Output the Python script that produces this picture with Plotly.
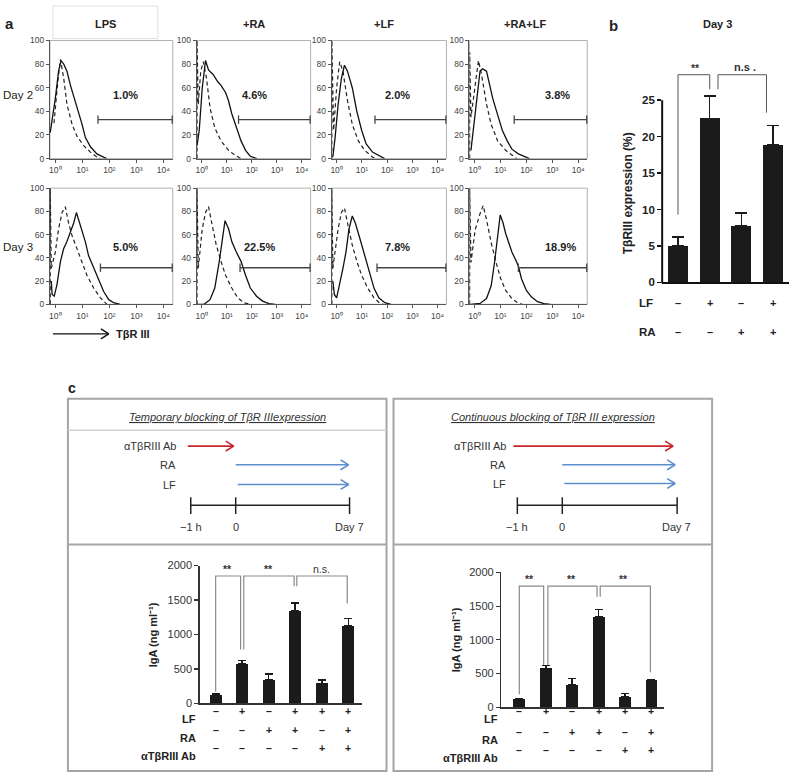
import plotly.graph_objects as go

W, H = 789, 778
FONT = "Liberation Sans, Arial, sans-serif"

# ---------------- Panel a data (log10 fluorescence, % of max) ----------------
conditions = ["LPS", "+RA", "+LF", "+RA+LF"]
days = ["Day 2", "Day 3"]
pct_day2 = ["1.0%", "4.6%", "2.0%", "3.8%"]
pct_day3 = ["5.0%", "22.5%", "7.8%", "18.9%"]
gate_start_day2 = [1.58, 1.47, 1.52, 1.53]
gate_start_day3 = [1.67, 1.53, 1.60, 1.69]
gate_end = 4.33
gate_level_day2 = 33
gate_level_day3 = 31.5

d2_lps_x = [-0.19, -0.09, 0.0, 0.12, 0.21, 0.31, 0.43, 0.56, 0.74, 0.86, 0.99, 1.11, 1.30, 1.54, 1.79, 1.9]
d2_lps_y = [22, 37, 51, 74, 83, 80, 74, 62, 49, 40, 29, 18, 10, 4, 1, 0]
d2_lps_c_x = [-0.05, 0.0, 0.09, 0.19, 0.31, 0.43, 0.62, 0.8, 1.05, 1.3, 1.54, 1.67]
d2_lps_c_y = [30, 43, 65, 84, 68, 46, 29, 19, 11, 5.5, 1.4, 0]

d2_ra_x = [-0.19, -0.1, 0.02, 0.15, 0.27, 0.46, 0.64, 0.77, 0.95, 1.07, 1.2, 1.38, 1.57, 1.75, 1.94, 2.2]
d2_ra_y = [11, 24, 60, 83, 75, 71, 65, 62, 56, 49, 38, 26, 15, 7, 2, 0]
d2_ra_c_x = [-0.19, -0.19, -0.14, -0.04, 0.06, 0.19, 0.33, 0.52, 0.77, 1.07, 1.32, 1.57]
d2_ra_c_y = [0, 100, 46, 74, 82, 68, 43, 26, 15, 7, 3, 0]

d2_lf_x = [-0.15, -0.06, 0.06, 0.19, 0.31, 0.43, 0.62, 0.8, 0.99, 1.17, 1.42, 1.67, 1.9]
d2_lf_y = [1.4, 18, 46, 68, 79, 74, 60, 40, 24, 12.5, 5.5, 2.8, 0]
d2_lf_c_x = [-0.19, -0.19, -0.12, 0.0, 0.12, 0.25, 0.43, 0.62, 0.86, 1.11, 1.42, 1.55]
d2_lf_c_y = [0, 100, 24, 60, 82, 74, 49, 29, 15, 7, 1.4, 0]

d2_ralf_x = [-0.14, -0.04, 0.09, 0.21, 0.31, 0.46, 0.58, 0.7, 0.89, 1.07, 1.26, 1.44, 1.69, 1.94, 2.12]
d2_ralf_y = [7, 24, 51, 74, 76, 74, 62, 51, 37, 24, 15, 8, 4, 1.4, 0]
d2_ralf_c_x = [-0.19, -0.19, -0.14, 0.02, 0.15, 0.27, 0.46, 0.64, 0.89, 1.2, 1.44, 1.63]
d2_ralf_c_y = [0, 90, 35, 60, 83, 71, 46, 29, 15, 7, 3, 0]

d3_lps_x = [-0.15, -0.12, -0.04, 0.06, 0.19, 0.31, 0.43, 0.56, 0.68, 0.78, 0.86, 0.99, 1.11, 1.23, 1.42, 1.6, 1.79, 1.98, 2.16, 2.4]
d3_lps_y = [20, 8.5, 7, 17, 37, 48, 54, 62, 70, 79, 73, 65, 54, 42, 31, 22, 11, 4, 1.4, 0]
d3_lps_c_x = [-0.19, -0.19, -0.15, 0.0, 0.12, 0.25, 0.37, 0.49, 0.62, 0.8, 0.99, 1.17, 1.42, 1.67, 1.91]
d3_lps_c_y = [0, 100, 31, 45, 65, 79, 84, 70, 59, 48, 37, 25, 14, 5.6, 0]

d3_ra_x = [-0.19, 0.09, 0.33, 0.52, 0.7, 0.83, 0.93, 1.07, 1.2, 1.38, 1.57, 1.75, 1.94, 2.19, 2.43, 2.68, 2.93]
d3_ra_y = [0, 0, 4, 14, 37, 56, 72, 65, 54, 45, 37, 25, 14, 7, 2.8, 0.6, 0]
d3_ra_c_x = [-0.19, -0.19, -0.14, 0.02, 0.15, 0.27, 0.4, 0.58, 0.77, 0.95, 1.2, 1.44, 1.69, 1.94]
d3_ra_c_y = [0, 100, 31, 65, 79, 84, 70, 51, 37, 25, 14, 5.6, 1.4, 0]

d3_lf_x = [-0.15, -0.09, 0.0, 0.12, 0.25, 0.37, 0.49, 0.62, 0.74, 0.93, 1.11, 1.3, 1.48, 1.67, 1.91, 2.15]
d3_lf_y = [20, 8.5, 5.6, 17, 31, 45, 65, 76, 70, 56, 42, 28, 14, 5.6, 1.4, 0]
d3_lf_c_x = [-0.19, -0.19, -0.15, 0.06, 0.19, 0.31, 0.43, 0.62, 0.8, 0.99, 1.23, 1.48, 1.73, 1.85]
d3_lf_c_y = [0, 100, 31, 65, 79, 83, 70, 51, 37, 25, 14, 5.6, 0.6, 0]

d3_ralf_x = [-0.15, 0.21, 0.46, 0.64, 0.77, 0.89, 0.99, 1.1, 1.2, 1.32, 1.44, 1.57, 1.69, 1.81, 2.0, 2.19, 2.43, 2.68, 2.93]
d3_ralf_y = [0, 0.8, 5, 16, 36, 59, 77, 70, 61, 53, 45, 39, 33, 22, 12, 6.5, 2.3, 0.6, 0]
d3_ralf_c_x = [-0.19, -0.19, -0.14, 0.02, 0.21, 0.33, 0.46, 0.64, 0.83, 1.01, 1.2, 1.44, 1.69, 1.85]
d3_ralf_c_y = [0, 100, 36, 64, 78, 85, 73, 53, 36, 22, 12, 5, 0.8, 0]

hist_ticks = [1, 10, 100, 1000, 10000]
hist_ticktext = ["10⁰", "10¹", "10²", "10³", "10⁴"]

# ---------------- Panel b data ----------------
b_lf = ["–", "+", "–", "+"]
b_ra = ["–", "–", "+", "+"]
b_vals = [5.0, 22.5, 7.8, 18.9]
b_err = [1.2, 3.1, 1.7, 2.6]
b_br1_x = [0, 0, 1, 1]
b_br1_y = [9.3, 28.5, 28.5, 26.5]
b_br2_x = [1.26, 1.26, 2.79, 2.79]
b_br2_y = [26.5, 28.5, 28.5, 23.3]

# ---------------- Panel c data ----------------
c_lf = ["–", "+", "–", "+", "+", "+"]
c_ra = ["–", "–", "+", "+", "–", "+"]
c_ab = ["–", "–", "–", "–", "+", "+"]
c_temp_vals = [125, 570, 340, 1345, 290, 1125]
c_temp_err = [10, 55, 85, 115, 50, 110]
c_cont_vals = [122, 578, 336, 1338, 160, 398]
c_cont_err = [8, 42, 88, 115, 45, 15]
c_temp_brackets = [([0, 0, 0.94, 0.94], [170, 1848, 1848, 780]),
                   ([1.06, 1.06, 2.96, 2.96], [780, 1848, 1848, 1700]),
                   ([3.06, 3.06, 4.96, 4.96], [1700, 1848, 1848, 1450])]
c_temp_sig = [(0.45, "**"), (2.0, "**"), (4.0, "n.s.")]
c_cont_brackets = [([0, 0, 0.92, 0.92], [195, 1796, 1796, 628]),
                   ([1.08, 1.08, 2.94, 2.94], [628, 1796, 1796, 1640]),
                   ([3.06, 3.06, 4.96, 4.96], [1640, 1796, 1796, 521])]
c_cont_sig = [(0.4, "**"), (1.97, "**"), (3.94, "**")]


def px(x):
    return x / W


def py(y):
    return 1 - y / H


fig = go.Figure()
layout = {}
shapes = []
annotations = []
axis_count = [0]


def add_axes(x0, x1, ytop, ybot, xa, ya):
    axis_count[0] += 1
    n = axis_count[0]
    s = "" if n == 1 else str(n)
    layout["xaxis" + s] = dict(domain=[px(x0), px(x1)], anchor="y" + s, **xa)
    layout["yaxis" + s] = dict(domain=[py(ybot), py(ytop)], anchor="x" + s, **ya)
    return "x" + s, "y" + s


def line(x0, y0, x1, y1, color="#000", w=1.5, dash=None):
    ln = dict(color=color, width=w)
    if dash:
        ln["dash"] = dash
    shapes.append(dict(type="line", xref="paper", yref="paper", x0=px(x0), y0=py(y0),
                       x1=px(x1), y1=py(y1), line=ln, layer="above"))


def rect(x0, y0, x1, y1, color, w, layer="below"):
    shapes.append(dict(type="rect", xref="paper", yref="paper", x0=px(x0), y0=py(y0),
                       x1=px(x1), y1=py(y1), line=dict(color=color, width=w), layer=layer))


def arrow(x0, x1, y, color, w=1.6):
    line(x0, y, x1, y, color, w)
    line(x1 - 8, y - 5, x1, y, color, w)
    line(x1 - 8, y + 5, x1, y, color, w)


def text(x, y, t, size=10, bold=False, color="#222", xanchor="center", italic=False, angle=0, yanchor="middle"):
    annotations.append(dict(xref="paper", yref="paper", x=px(x), y=py(y), text=t, showarrow=False,
                            xanchor=xanchor, yanchor=yanchor, textangle=angle,
                            font=dict(family=FONT, size=size, color=color,
                                      weight="bold" if bold else "normal",
                                      style="italic" if italic else "normal")))


# ---------------- Panel a ----------------
cols = [(49, 172), (196, 310), (331, 446), (469, 587)]
rows = [(35, 155), (185, 303)]
hist_data = [
    [(d2_lps_x, d2_lps_y, d2_lps_c_x, d2_lps_c_y), (d2_ra_x, d2_ra_y, d2_ra_c_x, d2_ra_c_y),
     (d2_lf_x, d2_lf_y, d2_lf_c_x, d2_lf_c_y), (d2_ralf_x, d2_ralf_y, d2_ralf_c_x, d2_ralf_c_y)],
    [(d3_lps_x, d3_lps_y, d3_lps_c_x, d3_lps_c_y), (d3_ra_x, d3_ra_y, d3_ra_c_x, d3_ra_c_y),
     (d3_lf_x, d3_lf_y, d3_lf_c_x, d3_lf_c_y), (d3_ralf_x, d3_ralf_y, d3_ralf_c_x, d3_ralf_c_y)],
]
pct_labels = [pct_day2, pct_day3]
gate_starts = [gate_start_day2, gate_start_day3]
gate_levels = [gate_level_day2, gate_level_day3]
pct_pos = [[(2.6, 54), (2.1, 54), (2.4, 54), (3.2, 54)],
           [(2.6, 49), (2.3, 49), (2.4, 49), (3.3, 49)]]

for r, (yt, yb) in enumerate(rows):
    for c, (x0, x1) in enumerate(cols):
        xa = dict(type="log", range=[-0.2, 4.35], tickvals=hist_ticks, ticktext=hist_ticktext,
                  showline=True, linecolor="#555", linewidth=1, ticks="outside", ticklen=3,
                  tickcolor="#555", tickfont=dict(family=FONT, size=8.5, color="#444"),
                  showgrid=False, zeroline=False)
        ya = dict(range=[0, 100], tickvals=[0, 20, 40, 60, 80, 100], showline=True, linecolor="#555",
                  linewidth=1, ticks="outside", ticklen=3, tickcolor="#555",
                  tickfont=dict(family=FONT, size=8.5, color="#444"), showgrid=False, zeroline=False)
        xr, yr = add_axes(x0, x1, yt, yb, xa, ya)
        rect(x0, yt, x1, yb, "#b0b0b0", 1)
        sx, sy, cx, cy = hist_data[r][c]
        fig.add_trace(go.Scatter(x=[10 ** v for v in cx], y=cy, mode="lines", xaxis=xr, yaxis=yr,
                                 line=dict(color="#222", width=1.2, dash="4px,3px"), showlegend=False))
        fig.add_trace(go.Scatter(x=[10 ** v for v in sx], y=sy, mode="lines", xaxis=xr, yaxis=yr,
                                 line=dict(color="#111", width=1.3), showlegend=False))
        g0 = gate_starts[r][c]
        gl = gate_levels[r]
        fig.add_trace(go.Scatter(x=[10 ** g0, 10 ** gate_end], y=[gl, gl], mode="lines+markers",
                                 xaxis=xr, yaxis=yr, line=dict(color="#444", width=1.3),
                                 marker=dict(symbol="line-ns-open", size=6, line=dict(color="#444", width=1.3)),
                                 showlegend=False, cliponaxis=False))
        lx, ly = pct_pos[r][c]
        annotations.append(dict(xref=xr, yref=yr, x=lx, y=ly, text=pct_labels[r][c], showarrow=False,
                                font=dict(family=FONT, size=11, color="#222", weight="bold")))

rect(52, 0, 157, 33, "#e0e0e0", 1)
title_x = [105, 253, 383, 525]
for t, xx in zip(conditions, title_x):
    text(xx, 18, t, size=11, bold=True)
text(0, 90, days[0], size=11.5, xanchor="left")
text(0, 245, days[1], size=11.5, xanchor="left")
text(2, 18, "a", size=15, bold=True, xanchor="left")
arrow(52, 108, 333, "#111", 1.4)
text(113, 333, "TβR III", size=11, bold=True, xanchor="left")

# ---------------- Panel b ----------------
b_top_val = (280.7 - 55) / 7.4
xb, yb_ = add_axes(662, 789, 55, 280.7,
                   dict(range=[-0.5, 3.5], showline=True, linecolor="#111", linewidth=2, ticks="",
                        showticklabels=False, showgrid=False, zeroline=False),
                   dict(range=[0, b_top_val], tickvals=[0, 5, 10, 15, 20, 25], showline=False, ticks="outside",
                        ticklen=4, tickwidth=1.5, tickcolor="#111",
                        tickfont=dict(family=FONT, size=11.5, color="#222", weight="bold"),
                        showgrid=False, zeroline=False))
line(662, 95.7, 662, 281.5, "#111", 2)
fig.add_trace(go.Bar(x=list(range(4)), y=b_vals, width=0.63, xaxis=xb, yaxis=yb_,
                     marker=dict(color="#1b1b1b", line=dict(width=0)),
                     error_y=dict(type="data", symmetric=False, array=b_err, arrayminus=[0] * 4,
                                  color="#1b1b1b", thickness=1.5, width=6), showlegend=False))
for bx, by in [(b_br1_x, b_br1_y), (b_br2_x, b_br2_y)]:
    fig.add_trace(go.Scatter(x=bx, y=by, mode="lines", xaxis=xb, yaxis=yb_,
                             line=dict(color="#555", width=1), showlegend=False))
annotations.append(dict(xref=xb, yref=yb_, x=0.55, y=29.4, text="**", showarrow=False,
                        font=dict(family=FONT, size=10.5, color="#333", weight="bold")))
annotations.append(dict(xref=xb, yref=yb_, x=2.1, y=29.6, text="n.s .", showarrow=False,
                        font=dict(family=FONT, size=11, color="#333", weight="bold")))
for i in range(4):
    annotations.append(dict(xref=xb, yref="paper", x=i, y=py(301.7), text=b_lf[i], showarrow=False,
                            font=dict(family=FONT, size=11, color="#222", weight="bold")))
    annotations.append(dict(xref=xb, yref="paper", x=i, y=py(331), text=b_ra[i], showarrow=False,
                            font=dict(family=FONT, size=11, color="#222", weight="bold")))
text(637, 301.7, "LF", size=11.5, bold=True, xanchor="left")
text(637, 331, "RA", size=11.5, bold=True, xanchor="left")
text(717, 18, "Day 3", size=11, bold=True)
text(607, 20, "b", size=15, bold=True, xanchor="left")
text(628, 190, "TβRIII expression (%)", size=12, bold=True, angle=-90)

# ---------------- Panel c ----------------
text(65, 388, "c", size=14, bold=True, xanchor="left")
rect(67, 399, 386, 777, "#a5a5a5", 2, layer="above")
rect(393, 399, 712, 777, "#a5a5a5", 2, layer="above")
line(67, 431, 386, 431, "#d0d0d0", 1.5)
line(67, 547, 386, 547, "#a5a5a5", 2)
line(393, 547, 712, 547, "#a5a5a5", 2)
text(227, 417, "<u>Temporary blocking of TβR IIIexpression</u>", size=11, italic=True, color="#333")
text(553, 417, "<u>Continuous blocking of TβR III expression</u>", size=11, italic=True, color="#333")

RED = "#c8262c"
BLUE = "#5b8ecb"
# left timeline
text(177, 447, "αTβRIII Ab", size=11, color="#333", xanchor="right")
text(177, 466, "RA", size=11, color="#333", xanchor="right")
text(177, 486, "LF", size=11, color="#333", xanchor="right")
arrow(187, 233, 447, RED)
arrow(235, 348, 466, BLUE)
arrow(237, 348, 486, BLUE)
line(190, 507, 349, 507, "#222", 1.5)
for tx in (190, 235, 349):
    line(tx, 499, tx, 516, "#222", 1.5)
text(190, 529, "−1 h", size=11, color="#333")
text(235, 529, "0", size=11, color="#333")
text(349, 529, "Day 7", size=11, color="#333")
# right timeline
text(508, 447, "αTβRIII Ab", size=11, color="#333", xanchor="right")
text(508, 466, "RA", size=11, color="#333", xanchor="right")
text(508, 485, "LF", size=11, color="#333", xanchor="right")
arrow(513, 673, 447, RED)
arrow(562, 675, 466, BLUE)
arrow(564, 675, 485, BLUE)
line(517, 507, 677, 507, "#222", 1.5)
for tx in (517, 562, 677):
    line(tx, 499, tx, 516, "#222", 1.5)
text(517, 529, "−1 h", size=11, color="#333")
text(562, 529, "0", size=11, color="#333")
text(676, 529, "Day 7", size=11, color="#333")


def igA_chart(x0, x1, ytop, ybot, xr0, xr1, vals, errs, brackets, sigs, sig_y, label_x, ylab_x, rows_y):
    xa = dict(range=[xr0, xr1], showline=True, linecolor="#333", linewidth=1.5, ticks="",
              showticklabels=False, showgrid=False, zeroline=False)
    ya = dict(range=[0, 2000], tickvals=[0, 500, 1000, 1500, 2000], showline=True, linecolor="#333",
              linewidth=1.5, ticks="outside", ticklen=4, tickwidth=1.2, tickcolor="#333",
              tickfont=dict(family=FONT, size=11, color="#333"), showgrid=False, zeroline=False)
    xr, yr = add_axes(x0, x1, ytop, ybot, xa, ya)
    fig.add_trace(go.Bar(x=list(range(6)), y=vals, width=0.45, xaxis=xr, yaxis=yr,
                         marker=dict(color="#1b1b1b", line=dict(width=0)),
                         error_y=dict(type="data", symmetric=False, array=errs, arrayminus=[0] * 6,
                                      color="#1b1b1b", thickness=1.5, width=4), showlegend=False))
    for bx, by in brackets:
        fig.add_trace(go.Scatter(x=bx, y=by, mode="lines", xaxis=xr, yaxis=yr,
                                 line=dict(color="#8a8a8a", width=1.2), showlegend=False))
    for sx, st in sigs:
        annotations.append(dict(xref=xr, yref=yr, x=sx, y=sig_y, text=st, showarrow=False,
                                font=dict(family=FONT, size=10.5, color="#333",
                                          weight="bold" if st == "**" else "normal")))
    for lab, signs, yy in zip(["LF", "RA", "αTβRIII Ab"], [c_lf, c_ra, c_ab], rows_y):
        text(label_x, yy, lab, size=11, bold=True, color="#222", xanchor="right")
        for i, s in enumerate(signs):
            annotations.append(dict(xref=xr, yref="paper", x=i, y=py(yy), text=s, showarrow=False,
                                    font=dict(family=FONT, size=10.5, color="#222", weight="bold")))
    text(ylab_x, (ytop + ybot) / 2, "IgA (ng ml⁻¹)", size=11, bold=True, angle=-90)


igA_chart(199, 361, 568.3, 708.3, -0.6, 5.5, c_temp_vals, c_temp_err, c_temp_brackets, c_temp_sig,
          1950, 197, 153, [724, 743, 762])
igA_chart(501, 664, 575.3, 712.3, -0.68, 5.48, c_cont_vals, c_cont_err, c_cont_brackets, c_cont_sig,
          1900, 500, 455, [724, 745, 764])

layout.update(dict(width=W, height=H, margin=dict(l=0, r=0, t=0, b=0), paper_bgcolor="white",
                   plot_bgcolor="white", showlegend=False, shapes=shapes, annotations=annotations,
                   font=dict(family=FONT), bargap=0, hovermode=False))
fig.update_layout(**layout)
fig.write_html("out.html", config={"displayModeBar": False, "staticPlot": True},
               post_script="document.body.style.margin='0';document.body.style.overflow='hidden';"
                           "var d=document.getElementById('{plot_id}');d.style.position='absolute';"
                           "d.style.left='0px';d.style.top='0px';")
